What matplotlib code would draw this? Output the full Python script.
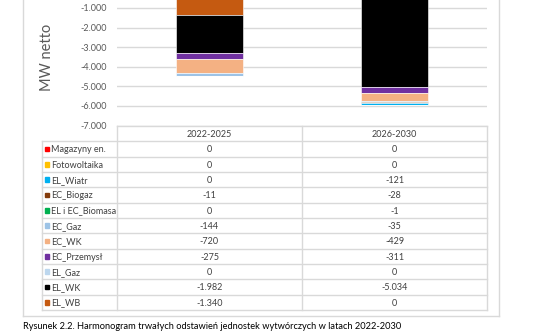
import matplotlib
matplotlib.use("Agg")
import matplotlib.pyplot as plt
import numpy as np

# data (table order, top to bottom)
periods = ["2022-2025", "2026-2030"]
series = ["Magazyny en.", "Fotowoltaika", "EL_Wiatr", "EC_Biogaz", "EL i EC_Biomasa",
          "EC_Gaz", "EC_WK", "EC_Przemysł", "EL_Gaz", "EL_WK", "EL_WB"]
vals_2022_2025 = [0, 0, 0, -11, 0, -144, -720, -275, 0, -1982, -1340]
vals_2026_2030 = [0, 0, -121, -28, -1, -35, -429, -311, 0, -5034, 0]
colors = ["#FF0000", "#FFC000", "#00B0F0", "#843C0C", "#00B050",
          "#9DC3E6", "#F4B183", "#7030A0", "#BDD7EE", "#000000", "#C55A11"]
y_ticks = [-1000, -2000, -3000, -4000, -5000, -6000, -7000]
caption = "Rysunek 2.2. Harmonogram trwałych odstawień jednostek wytwórczych w latach 2022-2030"

plt.rcParams["font.family"] = ["Lato", "DejaVu Sans"]
W, H = 536, 332
grey_txt = "#595959"
line_c = "#D9D9D9"


def fmt(v):
    return f"{v:,}".replace(",", ".")


def fx(px):
    return px / W


def fy(py):
    return 1 - py / H


fig = plt.figure(figsize=(W / 100, H / 100), dpi=100)

# chart border (top is outside the crop)
for xs, ys in [([23, 23], [-20, 316]), ([499, 499], [-20, 316]), ([23, 499], [316, 316])]:
    fig.add_artist(plt.Line2D([fx(x) for x in xs], [fy(y) for y in ys], color=line_c, lw=1))

# bars
ax = fig.add_axes([fx(117), fy(125.5), fx(487 - 117), (125.5 + 11.6) / H])
values = np.array([vals_2022_2025, vals_2026_2030]).T
x = np.arange(len(periods))
bottom = np.zeros(len(periods))
for i in reversed(range(len(series))):
    ax.bar(x, values[i], 0.357, bottom=bottom, color=colors[i], edgecolor="white", lw=0.4, zorder=3)
    bottom += values[i]
ax.set_xlim(-0.5, 1.5)
ax.set_ylim(-7000, 0)
ax.set_yticks(y_ticks)
ax.set_yticklabels([fmt(v) for v in y_ticks], fontsize=6.5, color=grey_txt)
ax.tick_params(axis="y", length=0, pad=7)
ax.set_xticks([])
ax.yaxis.grid(True, color=line_c, lw=1, zorder=0)
for s in ax.spines.values():
    s.set_visible(False)
fig.text(fx(47), fy(57), "MW netto", rotation=90, ha="center", va="center", fontsize=10.5, color=grey_txt)

# data table
axt = fig.add_axes([fx(42), fy(310), fx(487 - 42), (310 - 126) / H])
axt.set_xlim(42, 487)
nrows = len(series) + 1
axt.set_ylim(nrows, 0)
axt.axis("off")
col_edges = [117, 302, 487]
col_mid = [(col_edges[0] + col_edges[1]) / 2, (col_edges[1] + col_edges[2]) / 2]
for r in range(nrows + 1):
    axt.plot([42 if r > 0 else 117, 487], [r, r], color=line_c, lw=1, clip_on=False)
axt.plot([42, 42], [1, nrows], color=line_c, lw=1, clip_on=False)
for cx in col_edges:
    axt.plot([cx, cx], [0, nrows], color=line_c, lw=1, clip_on=False)
for j, p in enumerate(periods):
    axt.text(col_mid[j], 0.55, p, ha="center", va="center", fontsize=6.5, color="#404040")
for i, name in enumerate(series):
    r = i + 1.55
    axt.add_patch(plt.Rectangle((44.5, i + 1.35), 4.2, 0.3, color=colors[i], clip_on=False))
    axt.text(51, r, name, ha="left", va="center", fontsize=6.5, color="#404040")
    axt.text(col_mid[0], r, fmt(vals_2022_2025[i]), ha="center", va="center", fontsize=6.5, color="#404040")
    axt.text(col_mid[1], r, fmt(vals_2026_2030[i]), ha="center", va="center", fontsize=6.5, color="#404040")

# caption below the chart frame
fig.text(fx(23), fy(331), caption, ha="left", va="bottom", fontsize=6.7, color="black")

fig.savefig("out.png", dpi=100)
